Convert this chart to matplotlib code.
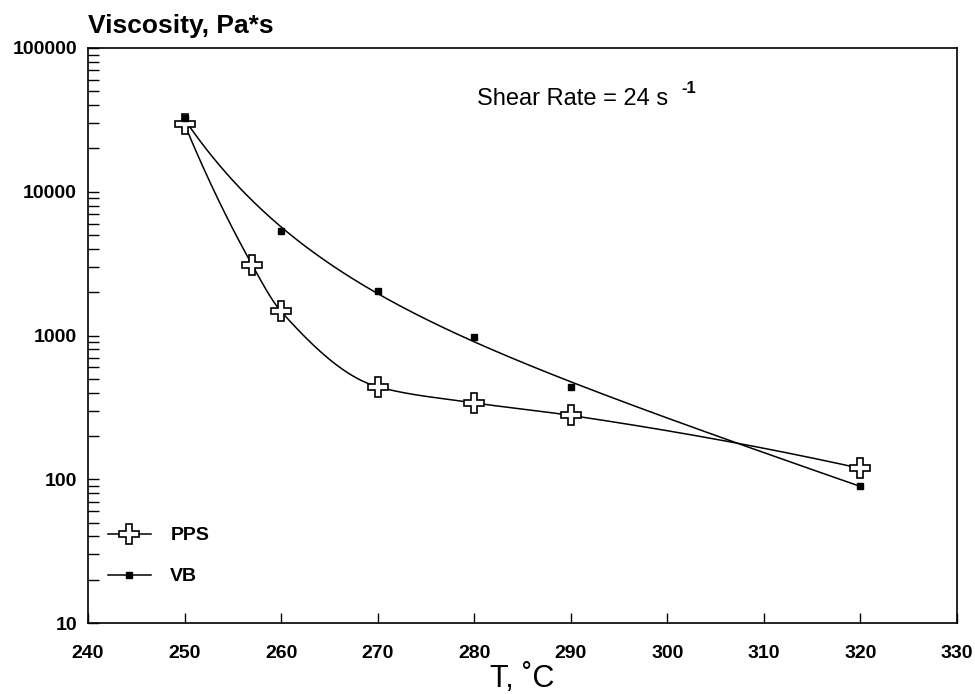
import numpy as np
import matplotlib
matplotlib.use("Agg")
import matplotlib.pyplot as plt
from matplotlib.ticker import LogLocator, FixedLocator, NullFormatter

plt.rcParams['font.family'] = ['Liberation Sans', 'DejaVu Sans']

# ---- data ----
pps_T = [250, 257, 260, 270, 280, 290, 320]
pps_visc = [29500, 3100, 1470, 440, 340, 278, 119]
vb_T = [250, 260, 270, 280, 290, 320]
vb_visc = [32500, 5300, 2050, 975, 440, 90]
x_ticks = [240, 250, 260, 270, 280, 290, 300, 310, 320, 330]
y_ticks = [10, 100, 1000, 10000, 100000]
y_ticklabels = ["10", "100", "1000", "10000", "100000"]


def pchip(x, y, xn):
    x = np.asarray(x, float); y = np.asarray(y, float)
    h = np.diff(x); d = np.diff(y) / h
    n = len(x); m = np.zeros(n)
    for k in range(1, n - 1):
        if d[k - 1] * d[k] > 0:
            w1 = 2 * h[k] + h[k - 1]; w2 = h[k] + 2 * h[k - 1]
            m[k] = (w1 + w2) / (w1 / d[k - 1] + w2 / d[k])
    def endslope(h0, h1, d0, d1):
        s = ((2 * h0 + h1) * d0 - h0 * d1) / (h0 + h1)
        if np.sign(s) != np.sign(d0):
            s = 0.0
        elif np.sign(d0) != np.sign(d1) and abs(s) > abs(3 * d0):
            s = 3 * d0
        return s
    m[0] = endslope(h[0], h[1], d[0], d[1])
    m[-1] = endslope(h[-1], h[-2], d[-1], d[-2])
    idx = np.clip(np.searchsorted(x, xn) - 1, 0, n - 2)
    t = (xn - x[idx]) / h[idx]
    h00 = 2 * t**3 - 3 * t**2 + 1; h10 = t**3 - 2 * t**2 + t
    h01 = -2 * t**3 + 3 * t**2; h11 = t**3 - t**2
    return h00 * y[idx] + h10 * h[idx] * m[idx] + h01 * y[idx + 1] + h11 * h[idx] * m[idx + 1]


def expfit(x, y, xn, k=0.08):
    # least squares fit: log(visc) = a + b*(T-250) + c*exp(-k*(T-250))
    x = np.asarray(x, float); y = np.asarray(y, float)
    A = np.column_stack([np.ones_like(x), x - 250, np.exp(-k * (x - 250))])
    coef, *_ = np.linalg.lstsq(A, y, rcond=None)
    An = np.column_stack([np.ones_like(xn), xn - 250, np.exp(-k * (xn - 250))])
    return An @ coef


fig = plt.figure(figsize=(9.75, 6.94), dpi=100)
ax = fig.add_axes([88 / 975, 1 - 623 / 694, (957 - 88) / 975, (623 - 48) / 694])

# smooth curves (in log space)
xs = np.linspace(250, 320, 400)
pps_curve = 10 ** pchip(pps_T, np.log10(pps_visc), xs)
vb_curve = 10 ** expfit(vb_T, np.log10(vb_visc), xs)

ax.plot(xs, pps_curve, color='black', lw=1.1, zorder=2)
ax.plot(xs, vb_curve, color='black', lw=1.1, zorder=2)
ax.plot(pps_T, pps_visc, linestyle='none', marker='P', ms=15, mfc='white',
        mec='black', mew=1.2, zorder=3)
ax.plot(vb_T, vb_visc, linestyle='none', marker='s', ms=5, mfc='black',
        mec='black', zorder=4)

# legend proxies
h1, = ax.plot([], [], color='black', lw=1.1, marker='P', ms=15, mfc='white',
              mec='black', mew=1.2, label='PPS')
h2, = ax.plot([], [], color='black', lw=1.1, marker='s', ms=5, mfc='black',
              label='VB')
leg = ax.legend(handles=[h1, h2], loc='lower left', frameon=False,
                prop={'size': 14, 'weight': 'bold'},
                handlelength=2.2, handletextpad=1.0, labelspacing=1.2,
                bbox_to_anchor=(0.003, 0.035), borderaxespad=0.5)

ax.set_yscale('log')
ax.set_xlim(240, 330)
ax.set_ylim(10, 100000)
ax.xaxis.set_major_locator(FixedLocator(x_ticks))
ax.set_xticklabels([str(v) for v in x_ticks], fontsize=14, fontweight='bold')
ax.yaxis.set_major_locator(FixedLocator(y_ticks))
ax.set_yticklabels(y_ticklabels, fontsize=14, fontweight='bold')
ax.yaxis.set_minor_locator(LogLocator(base=10, subs=np.arange(2, 10)))
ax.yaxis.set_minor_formatter(NullFormatter())
ax.tick_params(axis='x', which='major', direction='in', length=7, width=1,
               pad=16, top=False)
ax.tick_params(axis='y', which='both', direction='in', length=8, width=1,
               pad=8, right=False)
for s in ax.spines.values():
    s.set_linewidth(1.2)

fig.text(522.5 / 975, 1 - 687 / 694, 'T, \u02daC', fontsize=22,
         ha='center', va='baseline')
fig.text(88 / 975, 1 - 33 / 694, 'Viscosity, Pa*s', fontsize=19,
         fontweight='bold', ha='left', va='baseline')

ax.text(280.3, 40000, 'Shear Rate = 24 s', fontsize=17, ha='left', va='baseline')
ax.text(301.5, 48700, '-1', fontsize=12, fontweight='bold', ha='left',
        va='baseline')

fig.savefig('out.png', dpi=100)
